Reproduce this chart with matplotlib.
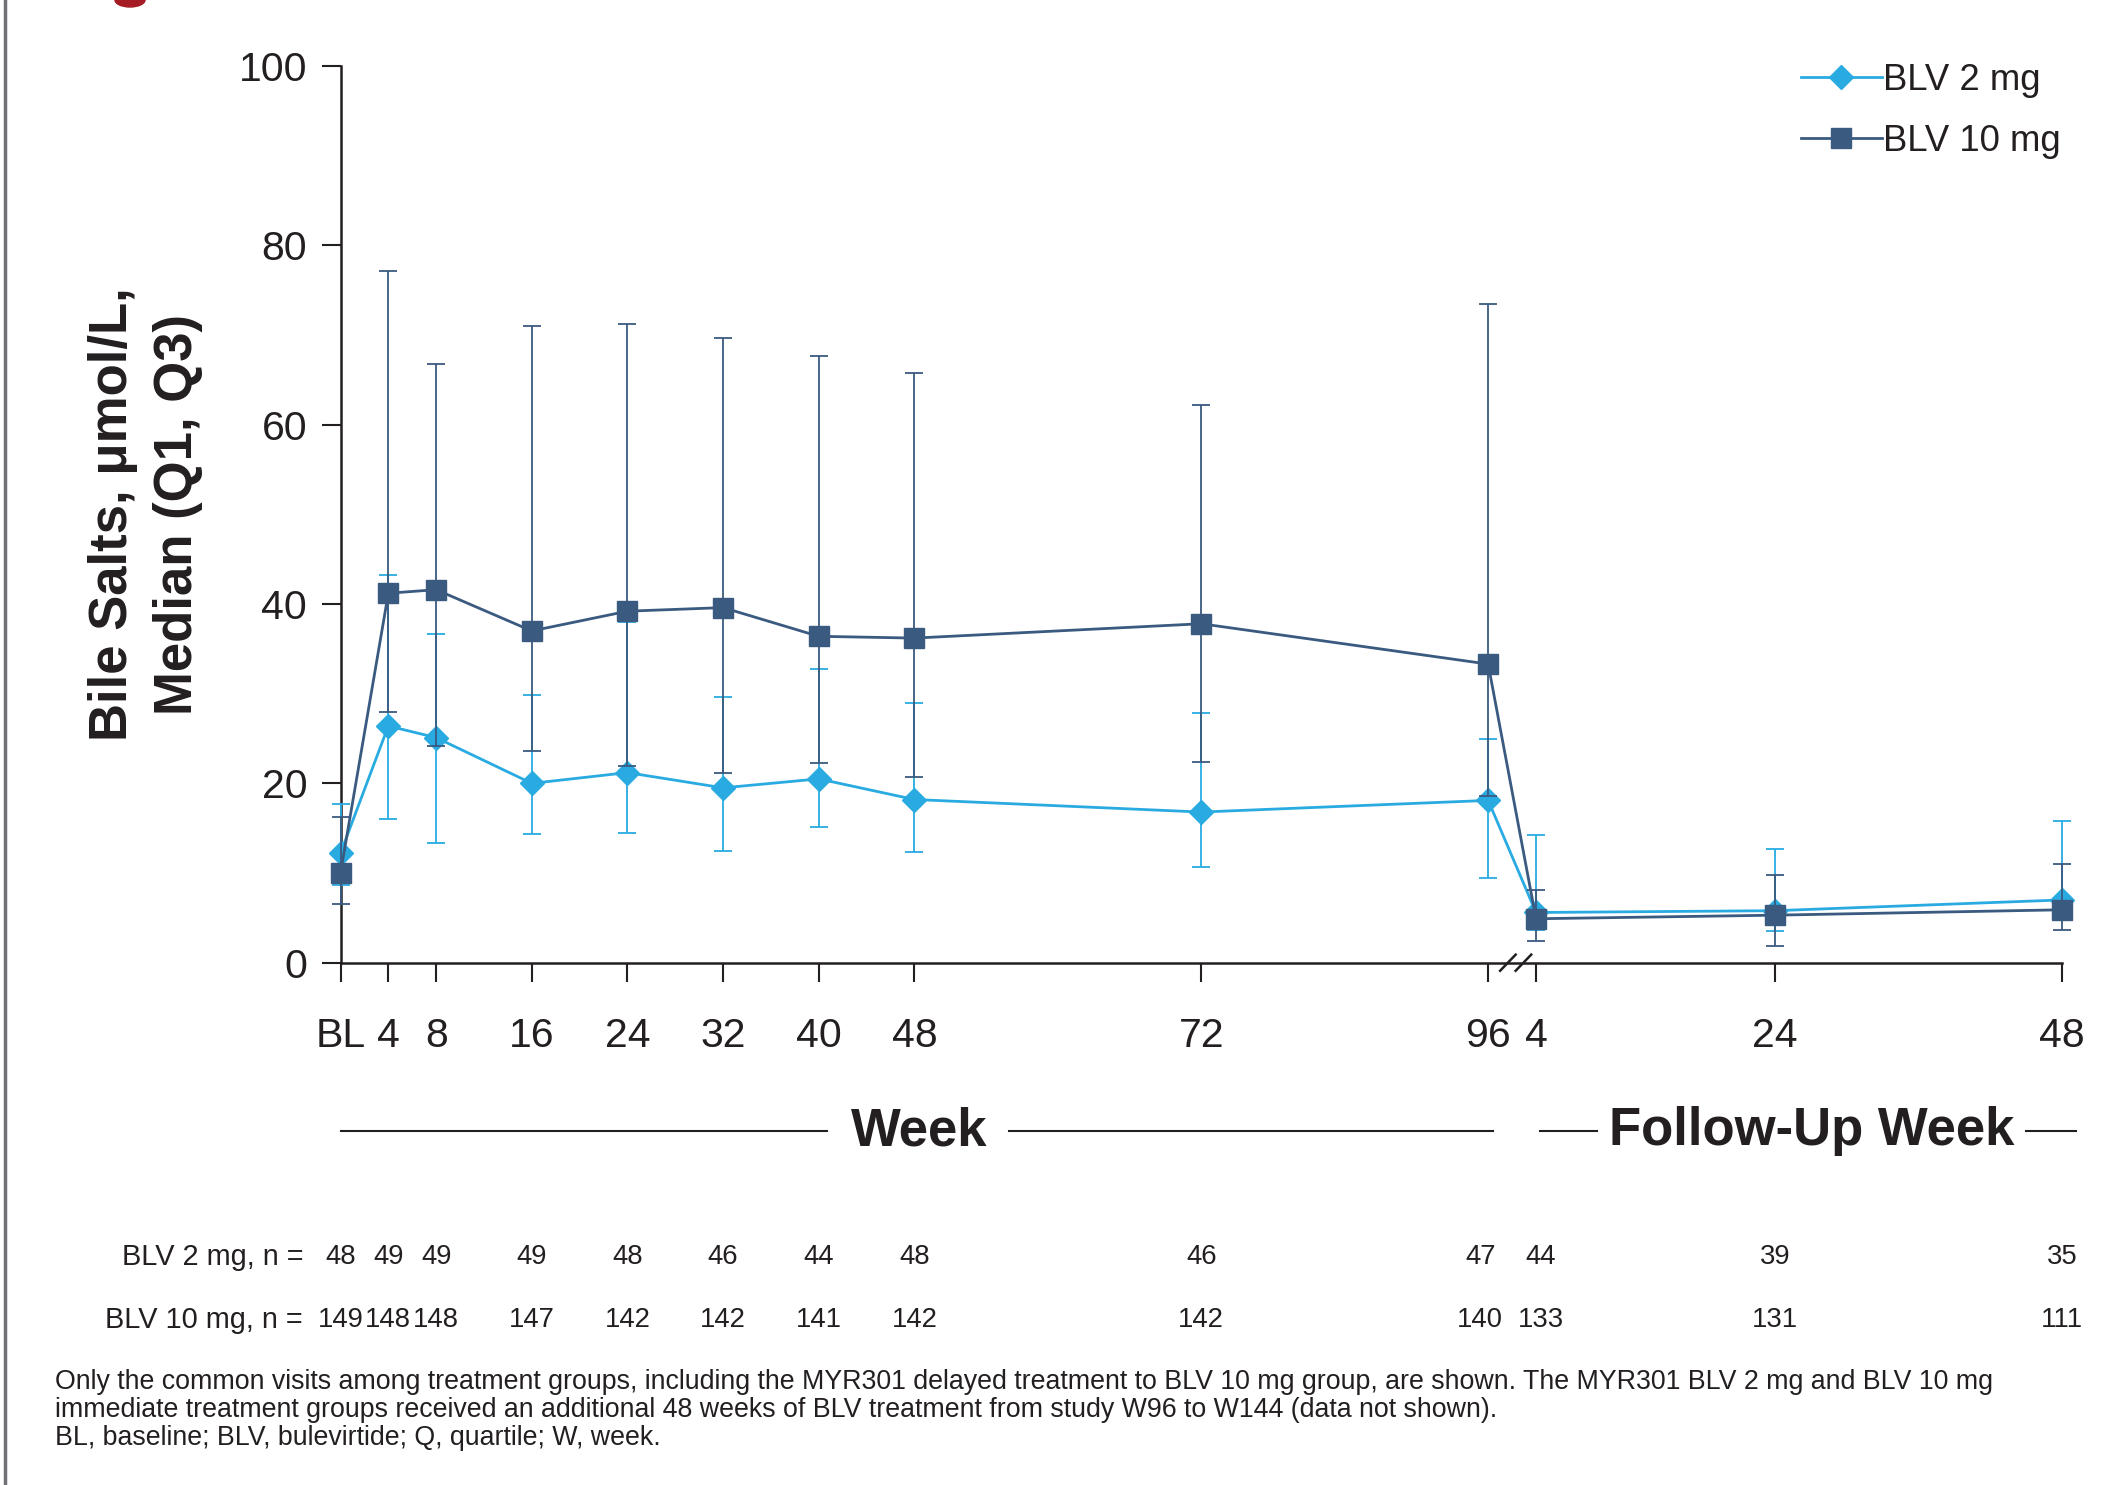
import matplotlib
matplotlib.use('Agg')
import matplotlib.pyplot as plt
from matplotlib.patches import Ellipse
from matplotlib.lines import Line2D
import matplotlib.transforms as mtransforms

plt.rcParams['font.family'] = ['Liberation Sans', 'DejaVu Sans']

# visit positions on a continuous week scale (follow-up week w sits at 96 + w)
visit_x = [0, 4, 8, 16, 24, 32, 40, 48, 72, 96, 100, 120, 144]
visit_labels = ['BL', '4', '8', '16', '24', '32', '40', '48', '72', '96', '4', '24', '48']

blv2_med = [12.2, 26.4, 25.1, 20.0, 21.2, 19.5, 20.5, 18.2, 16.8, 18.1, 5.6, 5.8, 7.0]
blv2_q1 = [8.7, 16.0, 13.3, 14.4, 14.5, 12.5, 15.1, 12.3, 10.7, 9.4, 3.6, 3.5, 4.8]
blv2_q3 = [17.7, 43.2, 36.7, 29.8, 38.0, 29.6, 32.7, 29.0, 27.8, 25.0, 14.2, 12.7, 15.8]

blv10_med = [10.0, 41.2, 41.6, 37.0, 39.2, 39.6, 36.4, 36.2, 37.8, 33.3, 4.9, 5.3, 5.9]
blv10_q1 = [6.5, 28.0, 24.2, 23.6, 21.9, 21.2, 22.3, 20.7, 22.4, 18.6, 2.4, 1.9, 3.7]
blv10_q3 = [16.3, 77.1, 66.8, 71.0, 71.2, 69.7, 67.7, 65.8, 62.2, 73.5, 8.1, 9.8, 11.0]

n_blv2 = [48, 49, 49, 49, 48, 46, 44, 48, 46, 47, 44, 39, 35]
n_blv10 = [149, 148, 148, 147, 142, 142, 141, 142, 142, 140, 133, 131, 111]

c2 = '#29abe2'
c10 = '#3a5a80'
ink = '#231f20'

fig = plt.figure(figsize=(21.19, 14.85), dpi=100)
W, H = 2119, 1485
ax = fig.add_axes([340.5 / W, 1 - 962.7 / H, (2062 - 340.5) / W, (962.7 - 66) / H])


def draw_series(med, q1, q3, color, marker, ms, label, z):
    lo = [m - a for m, a in zip(med, q1)]
    hi = [b - m for m, b in zip(med, q3)]
    ax.errorbar(visit_x, med, yerr=[lo, hi], fmt='none', ecolor=color,
                elinewidth=1.3, capsize=6.5, capthick=1.3, zorder=z, clip_on=False)
    ax.plot(visit_x, med, color=color, lw=2.0, marker=marker, ms=ms,
            mec=color, mfc=color, label=label, zorder=z + 1, clip_on=False)


draw_series(blv2_med, blv2_q1, blv2_q3, c2, 'D', 11.8, 'BLV 2 mg', 3)
draw_series(blv10_med, blv10_q1, blv10_q3, c10, 's', 15, 'BLV 10 mg', 5)

ax.set_xlim(0, 144)
ax.set_ylim(0, 100)
ax.set_xticks(visit_x)
ax.set_xticklabels(visit_labels)
ax.set_yticks([0, 20, 40, 60, 80, 100])
for s in ['top', 'right']:
    ax.spines[s].set_visible(False)
for s in ['left', 'bottom']:
    ax.spines[s].set_linewidth(1.8)
    ax.spines[s].set_color(ink)
ax.tick_params(axis='both', length=14, width=1.5, color=ink, labelcolor=ink, labelsize=29.5)
ax.tick_params(axis='x', pad=25)
ax.tick_params(axis='y', pad=10)

ax.set_ylabel('Bile Salts, \u03bcmol/L,\nMedian (Q1, Q3)', fontsize=38,
              fontweight='bold', color=ink, linespacing=1.38)
ax.yaxis.set_label_coords(-0.080, 0.5)

# axis break between week 96 and follow-up week 4
for dx in (0.0, 1.3):
    ax.add_line(Line2D([97.0 + dx, 98.3 + dx], [-0.9, 0.9], color=ink, lw=1.8,
                       clip_on=False, zorder=6))

leg = ax.legend(loc='upper right', bbox_to_anchor=(1.008, 1.02), frameon=False,
                fontsize=26.3, handlelength=2.2, handletextpad=0.05,
                labelspacing=0.72, borderaxespad=0)
for t in leg.get_texts():
    t.set_color(ink)

# period headings under the tick labels
bt = mtransforms.blended_transform_factory(ax.transData, fig.transFigure)
yh = 1 - 1131 / H
for x0, x1 in [(0, 40.7), (55.9, 96.4), (100.3, 105.1), (141.0, 145.2)]:
    fig.add_artist(Line2D([x0, x1], [yh, yh], transform=bt, color=ink, lw=1.5))
fig.text(48.4, yh, 'Week', transform=bt, ha='center', va='center',
         fontsize=38, fontweight='bold', color=ink)
fig.text(123.1, yh, 'Follow-Up Week', transform=bt, ha='center', va='center',
         fontsize=38, fontweight='bold', color=ink)

# number of patients per visit; nudge the two crowded columns apart
nudge_px = {96: -8, 100: 5}
for row_y, lab, counts in [(1257, 'BLV 2 mg, n =', n_blv2), (1320, 'BLV 10 mg, n =', n_blv10)]:
    fy = 1 - row_y / H
    fig.text(303 / W, fy, lab, ha='right', va='center', fontsize=20.8, color=ink)
    for x, n in zip(visit_x, counts):
        tr = bt + mtransforms.ScaledTranslation(nudge_px.get(x, 0) / 100, 0, fig.dpi_scale_trans)
        fig.text(x, fy, str(n), transform=tr, ha='center', va='center',
                 fontsize=19.8, color=ink)

notes = ('Only the common visits among treatment groups, including the MYR301 delayed treatment to '
         'BLV 10 mg group, are shown. The MYR301 BLV 2 mg and BLV 10 mg\n'
         'immediate treatment groups received an additional 48 weeks of BLV treatment from study '
         'W96 to W144 (data not shown).\n'
         'BL, baseline; BLV, bulevirtide; Q, quartile; W, week.')
fig.text(55 / W, 1 - 1369 / H, notes, ha='left', va='top', fontsize=19.3,
         color=ink, linespacing=1.1)

# page frame remnants
fig.add_artist(Line2D([5 / W, 5 / W], [0, 1], color='#707174', lw=2.5))
fig.add_artist(Ellipse((130 / W, 1.0), 30 / W, 14 / H, color='#a51c24'))

fig.savefig('out.png', dpi=100)
